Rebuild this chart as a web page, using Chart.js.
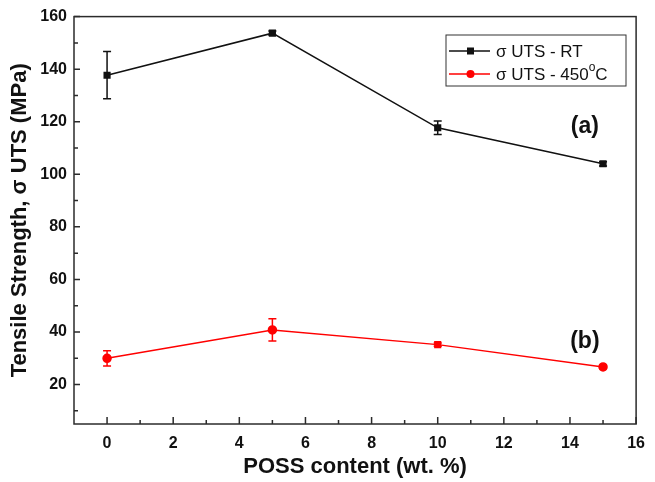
<!DOCTYPE html>
<html>
<head>
<meta charset="utf-8">
<script src="https://cdn.jsdelivr.net/npm/chart.js@4.4.1/dist/chart.umd.min.js"></script>
<style>
    html, body { margin: 0; padding: 0; background: #fff; }
    #wrap { width: 655px; height: 482px; }
</style>
</head>
<body>
<div id="wrap"><canvas id="uts-chart"></canvas></div>
<script>
// POSS content, wt. %
const possContent = [0, 5, 10, 15];

// tensile strength at room temperature and at 450 C, with error bars
const utsRT = [137.7, 153.7, 117.7, 104.0];
const utsRTErr = [9.0, 0.8, 2.6, 0.8];
const uts450 = [30.0, 40.8, 35.2, 26.7];
const uts450Err = [2.9, 4.2, 0.6, 0.6];
const pointStyles450 = ['circle', 'circle', 'rect', 'circle'];

const xTicks = [0, 2, 4, 6, 8, 10, 12, 14, 16];
const xMinor = [1, 3, 5, 7, 9, 11, 13, 15];
const yTicks = [20, 40, 60, 80, 100, 120, 140, 160];
const yMinor = [10, 30, 50, 70, 90, 110, 130, 150];

const panelLabels = [
    { text: '(a)', x: 14.45, y: 118 },
    { text: '(b)', x: 14.45, y: 36.5 }
];

(function(){

    const ctx = document.getElementById('uts-chart');
    const axisColor = '#2b2b2b';
    const fam = '"Liberation Sans", Arial, sans-serif';

    // error bars from the err arrays stored on each dataset
    const errorBars = {
        id: 'errorBars',
        afterDatasetsDraw(chart){
            const c = chart.ctx;
            const xs = chart.scales.x, ys = chart.scales.y;
            chart.data.datasets.forEach(ds => {
                c.save();
                c.strokeStyle = ds.borderColor;
                c.lineWidth = 1.5;
                ds.data.forEach((p, i) => {
                    const e = ds.errors[i];
                    if(!e) return;
                    const px = xs.getPixelForValue(p.x);
                    const top = ys.getPixelForValue(p.y + e);
                    const bot = ys.getPixelForValue(p.y - e);
                    c.beginPath();
                    c.moveTo(px, top); c.lineTo(px, bot);
                    c.moveTo(px - 4, top); c.lineTo(px + 4, top);
                    c.moveTo(px - 4, bot); c.lineTo(px + 4, bot);
                    c.stroke();
                });
                c.restore();
            });
        }
    };

    // frame, inward ticks, panel labels and legend box
    const frame = {
        id: 'frame',
        afterDraw(chart){
            const c = chart.ctx;
            const a = chart.chartArea;
            const xs = chart.scales.x, ys = chart.scales.y;
            c.save();
            c.strokeStyle = axisColor;
            c.lineWidth = 1.5;
            c.strokeRect(a.left, a.top, a.right - a.left, a.bottom - a.top);

            c.beginPath();
            xTicks.forEach(v => {
                const px = xs.getPixelForValue(v);
                c.moveTo(px, a.bottom); c.lineTo(px, a.bottom - 7);
            });
            xMinor.forEach(v => {
                const px = xs.getPixelForValue(v);
                c.moveTo(px, a.bottom); c.lineTo(px, a.bottom - 4);
            });
            yTicks.forEach(v => {
                const py = ys.getPixelForValue(v);
                c.moveTo(a.left, py); c.lineTo(a.left + 6, py);
            });
            yMinor.forEach(v => {
                const py = ys.getPixelForValue(v);
                c.moveTo(a.left, py); c.lineTo(a.left + 4, py);
            });
            c.stroke();

            c.fillStyle = '#111';
            c.font = 'bold 23px ' + fam;
            c.textAlign = 'center';
            c.textBaseline = 'middle';
            panelLabels.forEach(l => {
                c.fillText(l.text, xs.getPixelForValue(l.x), ys.getPixelForValue(l.y));
            });

            // legend
            const lx = 446, ly = 35, lw = 180, lh = 51;
            c.lineWidth = 1;
            c.strokeStyle = '#333';
            c.strokeRect(lx, ly, lw, lh);
            const rows = [
                { ds: chart.data.datasets[0], y: ly + 16, style: 'rect' },
                { ds: chart.data.datasets[1], y: ly + 39, style: 'circle' }
            ];
            c.textAlign = 'left';
            rows.forEach(r => {
                c.strokeStyle = r.ds.borderColor;
                c.fillStyle = r.ds.borderColor;
                c.lineWidth = 1.5;
                c.beginPath();
                c.moveTo(lx + 3, r.y); c.lineTo(lx + 44, r.y);
                c.stroke();
                if(r.style === 'rect'){
                    c.fillRect(lx + 21, r.y - 3.5, 7, 7);
                } else {
                    c.beginPath();
                    c.arc(lx + 24.5, r.y, 4, 0, Math.PI * 2);
                    c.fill();
                }
                c.fillStyle = '#111';
                let tx = lx + 50;
                r.ds.legendParts.forEach(p => {
                    if(p.sup){
                        c.font = '12px ' + fam;
                        c.fillText(p.t, tx, r.y - 6);
                    } else {
                        c.font = '17px ' + fam;
                        c.fillText(p.t, tx, r.y + 1);
                    }
                    tx += c.measureText(p.t).width;
                });
            });
            c.restore();
        }
    };

    new Chart(ctx, {
        type: 'scatter',
        data: {
            datasets: [{
                label: 'σ UTS - RT',
                legendParts: [{ t: 'σ UTS - RT' }],
                data: possContent.map((x, i) => ({ x: x, y: utsRT[i] })),
                errors: utsRTErr,
                showLine: true,
                borderColor: '#111',
                backgroundColor: '#111',
                borderWidth: 1.5,
                pointStyle: 'rect',
                pointRadius: 4,
                pointHoverRadius: 4
            }, {
                label: 'σ UTS - 450ºC',
                legendParts: [{ t: 'σ UTS - 450' }, { t: 'o', sup: true }, { t: 'C' }],
                data: possContent.map((x, i) => ({ x: x, y: uts450[i] })),
                errors: uts450Err,
                showLine: true,
                borderColor: '#ff0000',
                backgroundColor: '#ff0000',
                borderWidth: 1.5,
                pointStyle: pointStyles450,
                pointRadius: 4,
                pointHoverRadius: 4
            }]
        },
        options: {
            responsive: true,
            maintainAspectRatio: false,
            animation: false,
            layout: {
                padding: { left: 0, right: 12, top: 16, bottom: 0 }
            },
            scales: {
                x: {
                    type: 'linear',
                    min: -1,
                    max: 16,
                    grid: { display: false, drawTicks: false },
                    border: { display: false },
                    afterBuildTicks: scale => { scale.ticks = xTicks.map(v => ({ value: v })); },
                    afterFit: scale => { scale.height = 58; },
                    ticks: {
                        color: '#111',
                        padding: 10,
                        maxRotation: 0,
                        font: { family: fam, size: 16, weight: 'bold' }
                    },
                    title: {
                        display: true,
                        text: 'POSS content (wt. %)',
                        color: '#111',
                        padding: { top: 0, bottom: 2 },
                        font: { family: fam, size: 22, weight: 'bold' }
                    }
                },
                y: {
                    type: 'linear',
                    min: 5,
                    max: 160,
                    grid: { display: false, drawTicks: false },
                    border: { display: false },
                    afterBuildTicks: scale => { scale.ticks = yTicks.map(v => ({ value: v })); },
                    afterFit: scale => { scale.width = 74; },
                    ticks: {
                        color: '#111',
                        padding: 7,
                        font: { family: fam, size: 16, weight: 'bold' }
                    },
                    title: {
                        display: true,
                        text: 'Tensile Strength, σ UTS (MPa)',
                        color: '#111',
                        padding: { top: 7, bottom: 0 },
                        font: { family: fam, size: 22, weight: 'bold' }
                    }
                }
            },
            plugins: {
                legend: { display: false },
                tooltip: { enabled: false }
            }
        },
        plugins: [errorBars, frame]
    });
})();
</script>
</body>
</html>
